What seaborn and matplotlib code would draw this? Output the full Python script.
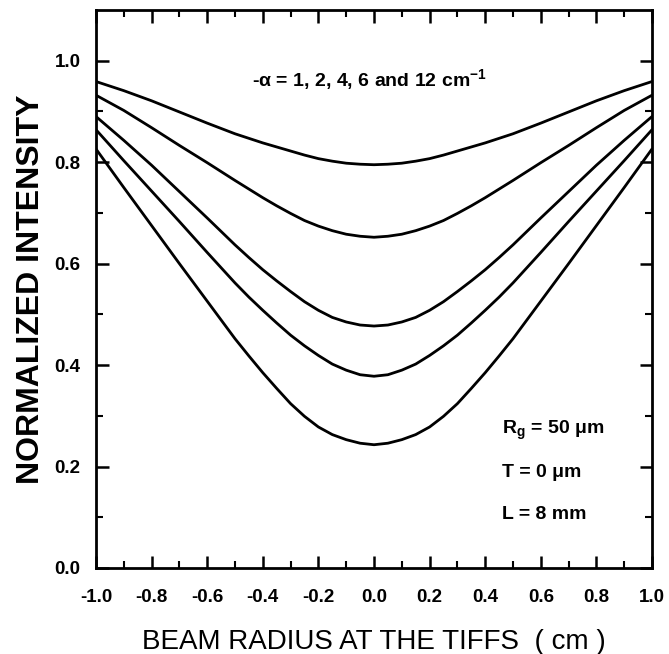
import numpy as np
import pandas as pd
import matplotlib
matplotlib.use("Agg")
import matplotlib.pyplot as plt
import seaborn as sns

# beam radius (left half, mirrored for the right half)
x_half = [-1.0, -0.9, -0.8, -0.7, -0.6, -0.5, -0.45, -0.4, -0.35, -0.3,
          -0.25, -0.2, -0.15, -0.1, -0.05, 0.0]
alpha_labels = ["1", "2", "4", "6", "12"]
i_a1 = [0.959, 0.941, 0.921, 0.899, 0.877, 0.856, 0.847, 0.838, 0.830, 0.822,
        0.814, 0.807, 0.802, 0.798, 0.796, 0.795]
i_a2 = [0.932, 0.902, 0.868, 0.833, 0.799, 0.764, 0.747, 0.730, 0.714, 0.699,
        0.685, 0.674, 0.665, 0.658, 0.654, 0.652]
i_a4 = [0.890, 0.843, 0.794, 0.742, 0.690, 0.637, 0.612, 0.588, 0.566, 0.545,
        0.525, 0.508, 0.494, 0.485, 0.479, 0.477]
i_a6 = [0.864, 0.803, 0.743, 0.683, 0.622, 0.562, 0.534, 0.508, 0.483, 0.459,
        0.438, 0.419, 0.402, 0.390, 0.381, 0.378]
i_a12 = [0.826, 0.750, 0.675, 0.600, 0.526, 0.452, 0.418, 0.385, 0.354, 0.324,
         0.299, 0.278, 0.263, 0.253, 0.246, 0.243]

x_ticks = [-1.0, -0.8, -0.6, -0.4, -0.2, 0.0, 0.2, 0.4, 0.6, 0.8, 1.0]
y_ticks = [0.0, 0.2, 0.4, 0.6, 0.8, 1.0]

series = [i_a1, i_a2, i_a4, i_a6, i_a12]
rows = []
for lab, vals in zip(alpha_labels, series):
    xs = list(x_half) + [-v for v in x_half[-2::-1]]
    ys = list(vals) + list(vals[-2::-1])
    for xv, yv in zip(xs, ys):
        rows.append({"x": xv, "I": yv, "alpha": lab})
df = pd.DataFrame(rows)

sns.set_style("ticks")
plt.rcParams["font.family"] = ["Liberation Sans", "DejaVu Sans"]
plt.rcParams["mathtext.fontset"] = "custom"
plt.rcParams["mathtext.rm"] = "Liberation Sans"
plt.rcParams["mathtext.bf"] = "Liberation Sans:bold"
plt.rcParams["text.color"] = "black"
plt.rcParams["axes.labelcolor"] = "black"
plt.rcParams["xtick.color"] = "black"
plt.rcParams["ytick.color"] = "black"

fig = plt.figure(figsize=(6.69, 6.54), dpi=100)
ax = fig.add_axes([96/669, 1 - 568/654, 556/669, 558/654])

sns.lineplot(data=df, x="x", y="I", hue="alpha", palette=["black"]*5,
             linewidth=2.0, legend=False, ax=ax, sort=True)

ax.set_xlim(-1.0, 1.0)
ax.set_ylim(0.0, 1.1)
ax.set_xticks(x_ticks)
ax.set_xticks(np.arange(-0.9, 1.0, 0.2), minor=True)
ax.set_yticks(y_ticks)
ax.set_yticks([0.1, 0.3, 0.5, 0.7, 0.9], minor=True)
ax.set_xticklabels([f"{v:.1f}" for v in x_ticks])
ax.set_yticklabels([f"{v:.1f}" for v in y_ticks])
ax.tick_params(which="major", direction="in", length=9, width=1.8,
               top=True, right=True, labelsize=13.5,
               color="black", labelcolor="black")
ax.tick_params(axis="x", which="major", pad=15)
ax.tick_params(axis="y", which="major", pad=11)
ax.tick_params(which="minor", direction="in", length=5, width=1.5,
               top=True, right=True, color="black")
for lab in ax.get_xticklabels() + ax.get_yticklabels():
    lab.set_fontweight("bold")
for s in ax.spines.values():
    s.set_linewidth(2.0)
    s.set_color("black")

ax.set_xlabel("BEAM RADIUS AT THE TIFFS  ( cm )", fontsize=20, labelpad=17,
              color="black")
ax.set_ylabel("NORMALIZED INTENSITY", fontsize=23, fontweight="bold",
              labelpad=6, color="black")

ax.text(-0.44, 0.962, "-α = 1, 2, 4, 6 and 12 cm$^{\\mathbf{-1}}$",
        fontsize=14, fontweight="bold", va="center", ha="left")
ax.text(0.46, 0.272, "R$_{\\mathbf{g}}$ = 50 μm", fontsize=14,
        fontweight="bold", va="center", ha="left")
ax.text(0.46, 0.189, "T = 0 μm", fontsize=14, fontweight="bold",
        va="center", ha="left")
ax.text(0.46, 0.105, "L = 8 mm", fontsize=14, fontweight="bold",
        va="center", ha="left")

fig.savefig("out.png", dpi=100)
